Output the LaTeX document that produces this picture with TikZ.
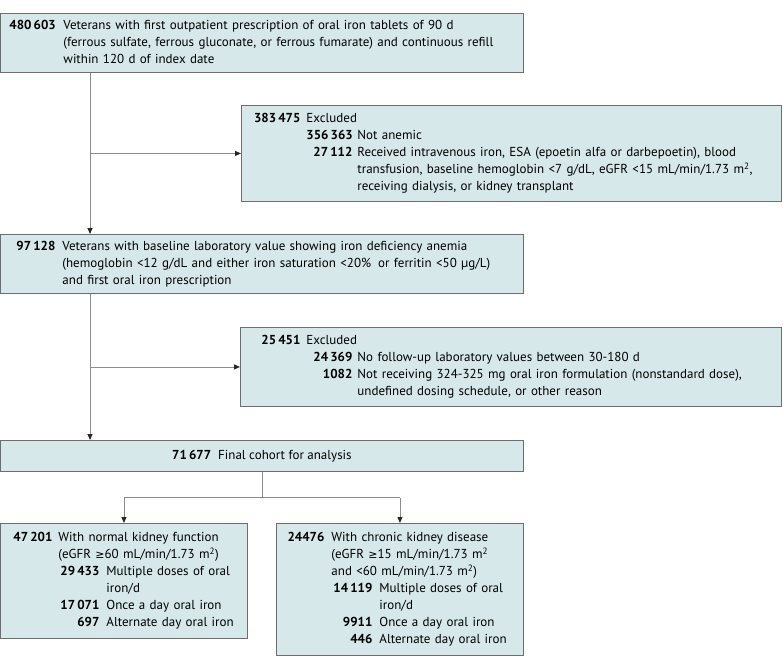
\documentclass[tikz,border=0pt]{standalone}
\usepackage{fontspec}
\setmainfont{PT Sans}
\newfontfamily\symfont{DejaVu Sans}
\usepackage{array}
\usetikzlibrary{arrows.meta}
\definecolor{boxfill}{HTML}{D6E8EA}
\definecolor{boxline}{HTML}{6E6E6E}
\definecolor{connline}{HTML}{8C8C8C}
\newcolumntype{N}[1]{>{\raggedleft\arraybackslash\bfseries}p{#1}}
\newcolumntype{T}[1]{>{\raggedright\arraybackslash}p{#1}}
\newcommand{\geqsym}{{\symfont\fontsize{11}{17}\selectfont ≥}}
\begin{document}
\begin{tikzpicture}[x=1pt,y=-1pt,
  box/.style={draw=boxline, fill=boxfill, line width=0.9pt, anchor=north west,
    inner xsep=0pt, inner ysep=0pt, align=left,
    font=\fontsize{13}{17}\selectfont},
  connector/.style={draw=connline, line width=0.9pt},
  arrowed/.style={connector, -{Triangle[length=6pt,width=5pt,color=black!85]}}]
\useasboundingbox (0,0) rectangle (783,668);

% top box
\node[box, minimum width=523pt, minimum height=59pt, text width=523pt] (b1) at (0,13)
{\hspace*{9pt}\begin{tabular}{@{}N{46pt}@{\hspace{8pt}}T{450pt}@{}}
480\,603 & Veterans with first outpatient prescription of oral iron tablets of 90 d\newline
(ferrous sulfate, ferrous gluconate, or ferrous fumarate) and continuous refill\newline
within 120 d of index date
\end{tabular}};

% excluded 1
\node[box, minimum width=540pt, minimum height=96pt, text width=540pt] (e1) at (241,105)
{\hspace*{9pt}\begin{tabular}{@{}N{50pt}@{\hspace{6pt}}N{46pt}@{\hspace{5pt}}T{410pt}@{}}
383\,475 & \multicolumn{2}{@{}l@{}}{Excluded}\\
 & 356\,363 & Not anemic\\
 & 27\,112 & Received intravenous iron, ESA (epoetin alfa or darbepoetin), blood\newline
transfusion, baseline hemoglobin <7 g/dL, eGFR <15 mL/min/1.73 m\textsuperscript{2},\newline
receiving dialysis, or kidney transplant
\end{tabular}};

% box 2
\node[box, minimum width=523pt, minimum height=59pt, text width=523pt] (b2) at (0,234)
{\hspace*{9pt}\begin{tabular}{@{}N{46pt}@{\hspace{7pt}}T{455pt}@{}}
97\,128 & Veterans with baseline laboratory value showing iron deficiency anemia\newline
(hemoglobin <12 g/dL and either iron saturation <20\%\hspace{7pt}or ferritin <50 µg/L)\newline
and first oral iron prescription
\end{tabular}};

% excluded 2
\node[box, minimum width=541pt, minimum height=79pt, text width=541pt] (e2) at (240,327)
{\hspace*{10pt}\begin{tabular}{@{}N{50pt}@{\hspace{6pt}}N{46pt}@{\hspace{5pt}}T{410pt}@{}}
25\,451 & \multicolumn{2}{@{}l@{}}{Excluded}\\
 & 24\,369 & No follow-up laboratory values between 30-180 d\\
 & 1082 & Not receiving 324-325 mg oral iron formulation (nonstandard dose),\newline
undefined dosing schedule, or other reason
\end{tabular}};

% final cohort
\node[box, minimum width=523pt, minimum height=31pt, align=center] (fc) at (0,440)
{\textbf{71\,677}\hspace{7pt}Final cohort for analysis};

% normal kidney
\node[box, minimum width=247pt, minimum height=115pt, text width=247pt] (nk) at (0,523)
{\hspace*{9pt}\begin{tabular}{@{}N{43pt}@{\hspace{6pt}}N{41pt}@{\hspace{7pt}}T{135pt}@{}}
47\,201 & \multicolumn{2}{@{}l@{}}{With normal kidney function}\\
 & \multicolumn{2}{@{}l@{}}{(eGFR \geqsym60 mL/min/1.73 m\textsuperscript{2})}\\
 & 29\,433 & Multiple doses of oral\newline iron/d\\
 & 17\,071 & Once a day oral iron\\
 & 697 & Alternate day oral iron
\end{tabular}};

% chronic kidney disease
\node[box, minimum width=247pt, minimum height=132pt, text width=247pt] (ck) at (276,523)
{\hspace*{8pt}\begin{tabular}{@{}N{40pt}@{\hspace{7pt}}N{41pt}@{\hspace{7pt}}T{135pt}@{}}
24476 & \multicolumn{2}{@{}l@{}}{With chronic kidney disease}\\
 & \multicolumn{2}{@{}l@{}}{(eGFR \geqsym15 mL/min/1.73 m\textsuperscript{2}}\\
 & \multicolumn{2}{@{}l@{}}{and <60 mL/min/1.73 m\textsuperscript{2})}\\
 & 14\,119 & Multiple doses of oral\newline iron/d\\
 & 9911 & Once a day oral iron\\
 & 446 & Alternate day oral iron
\end{tabular}};

% connectors
\coordinate (t1) at ([xshift=90pt]b1.south west);
\draw[arrowed] (t1) -- (t1 |- b2.north);
\draw[arrowed] (t1 |- e1.west) -- (e1.west);
\coordinate (t2) at ([xshift=90pt]b2.south west);
\draw[arrowed] (t2) -- (t2 |- fc.north);
\draw[arrowed] (t2 |- e2.west) -- (e2.west);
\coordinate (sp) at ([yshift=-26pt]fc.south);
\draw[connector] (fc.south) -- (sp);
\draw[connector] (nk.north |- sp) -- (ck.north |- sp);
\draw[arrowed] (nk.north |- sp) -- (nk.north);
\draw[arrowed] (ck.north |- sp) -- (ck.north);
\end{tikzpicture}
\end{document}
